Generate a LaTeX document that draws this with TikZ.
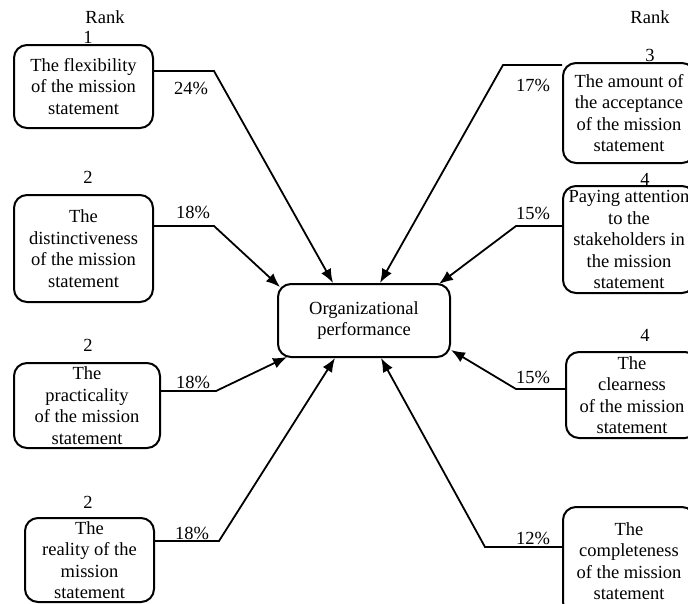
\documentclass[tikz,border=0pt]{standalone}
\usepackage{fontspec}
\setmainfont{Liberation Serif}
\usetikzlibrary{arrows.meta,calc}
\begin{document}
\begin{tikzpicture}[x=1pt,y=-1pt,
 box/.style={draw,line width=2pt,rounded corners=13pt,align=center,inner sep=0pt,font=\fontsize{18.5}{21.5}\selectfont},
 lbl/.style={font=\fontsize{18.5}{21}\selectfont,inner sep=0pt},
 conn/.style={line width=1.8pt,-{Latex[length=14pt,width=11pt]}}]
\useasboundingbox (0,0) rectangle (688,603);
\clip (0,0) rectangle (688,603);
% central
\node[box, minimum width=172pt, minimum height=73pt] (c) at (364,320.5) {Organizational\\performance};
% left boxes
\node[box, minimum width=139pt, minimum height=83pt] (b1) at (83.5,86.5) {The flexibility\\of the mission\\statement};
\node[box, minimum width=139pt, minimum height=107pt] (b2) at (83.5,248.5) {The\\distinctiveness\\of the mission\\statement};
\node[box, minimum width=146pt, minimum height=85pt] (b3) at (87,405.5) {The\\practicality\\of the mission\\statement};
\node[box, minimum width=129pt, minimum height=84pt] (b4) at (89.5,560) {The\\reality of the\\mission\\statement};
% right boxes
\node[box, minimum width=132pt, minimum height=100pt] (b5) at (629,113) {The amount of\\the acceptance\\of the mission\\statement};
\node[box, minimum width=132pt, minimum height=107pt] (b6) at (629,239.5) {Paying attention\\to the\\stakeholders in\\the mission\\statement};
\node[box, minimum width=132pt, minimum height=86pt] (b7) at (632,395) {The\\clearness\\of the mission\\statement};
\node[box, minimum width=132pt, minimum height=108pt] (b8) at (629,561) {The\\completeness\\of the mission\\statement};
% rank labels
\node[lbl] (r1) at (105,17) {Rank};
\node[lbl] (r2) at (650,17) {Rank};
\node[lbl] (n1) at (88,37) {1};
\node[lbl] (n2) at (88,177) {2};
\node[lbl] (n3) at (88,345) {2};
\node[lbl] (n4) at (88,502) {2};
\node[lbl] (n5) at (650,55) {3};
\node[lbl] (n6) at (645,179) {4};
\node[lbl] (n7) at (645,335) {4};
% percentages
\node[lbl] (p1) at (191,88) {24\%};
\node[lbl] (p2) at (193,212) {18\%};
\node[lbl] (p3) at (193,382) {18\%};
\node[lbl] (p4) at (192,533) {18\%};
\node[lbl] (p5) at (533,85) {17\%};
\node[lbl] (p6) at (533,213) {15\%};
\node[lbl] (p7) at (533,377) {15\%};
\node[lbl] (p8) at (533,538) {12\%};
% bend coordinates
\coordinate (k1) at (214,71);
\coordinate (k2) at (214,226);
\coordinate (k3) at (216,391);
\coordinate (k4) at (219,541);
\coordinate (k5) at (503,65);
\coordinate (k6) at (516,226);
\coordinate (k7) at (516,389);
\coordinate (k8) at (485,547);
% connectors
\draw[conn] (b1.east |- k1) -- (k1) -- ($(c.north)+(-31,0)$);
\draw[conn] (b2.east |- k2) -- (k2) -- ($(c.north west)+(3,4)$);
\draw[conn] (b3.east |- k3) -- (k3) -- ($(c.south west)+(10,-1)$);
\draw[conn] (b4.east |- k4) -- (k4) -- ($(c.south)+(-29,0)$);
\draw[conn] (b5.west |- k5) -- (k5) -- ($(c.north)+(16,0)$);
\draw[conn] (b6.west |- k6) -- (k6) -- ($(c.north east)+(-12,1)$);
\draw[conn] (b7.west |- k7) -- (k7) -- ($(c.south east)+(0,-8)$);
\draw[conn] (b8.west |- k8) -- (k8) -- ($(c.south)+(17,0)$);
\end{tikzpicture}
\end{document}
